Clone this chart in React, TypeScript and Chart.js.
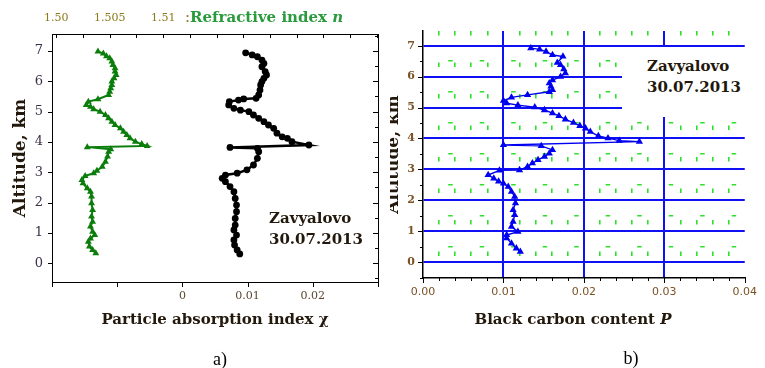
import React, { useEffect, useRef } from 'react';
import { Chart, registerables } from 'chart.js';

Chart.register(...registerables);

// ---- Panel a: refractive index n (green, top axis) vs altitude, km
const nAltitude = [
  6.98, 6.92, 6.83, 6.76, 6.65, 6.54, 6.43, 6.32, 6.21, 6.1, 5.99, 5.88, 5.77, 5.66, 5.55,
  5.41, 5.33, 5.22, 5.16, 5.08, 5.0, 4.89, 4.78, 4.67, 4.56, 4.45, 4.34, 4.23, 4.12, 4.01,
  3.93, 3.87, 3.83, 3.76, 3.68, 3.52, 3.35, 3.18, 3.05, 2.97, 2.88, 2.75, 2.64, 2.47, 2.36,
  2.2, 1.98, 1.76, 1.54, 1.37, 1.21, 1.04, 0.93, 0.82, 0.71, 0.55, 0.44, 0.33,
];
const nValues = [
  1.5039, 1.5044, 1.5047, 1.505, 1.5052, 1.5053, 1.5055, 1.5055, 1.5056, 1.5054, 1.5052, 1.5052, 1.5051, 1.505, 1.5049,
  1.5039, 1.503, 1.5028, 1.5032, 1.5035, 1.5041, 1.5046, 1.5049, 1.5052, 1.5055, 1.506, 1.5063, 1.5066, 1.5069, 1.5074,
  1.508, 1.5085, 1.5029, 1.5051, 1.5049, 1.5048, 1.5046, 1.5043, 1.5038, 1.5035, 1.5027, 1.5024, 1.5025, 1.5029, 1.5032,
  1.5033, 1.5033, 1.5034, 1.5033, 1.5034, 1.5032, 1.5034, 1.5036, 1.5032, 1.503, 1.5031, 1.5034, 1.5037,
];

// ---- Panel a: particle absorption index χ (black, bottom axis)
const chiAltitude = [
  6.94, 6.87, 6.81, 6.7, 6.59, 6.48, 6.32, 6.21, 6.1, 5.99, 5.88, 5.71, 5.55, 5.44, 5.42,
  5.38, 5.33, 5.22, 5.11, 5.05, 5.0, 4.89, 4.78, 4.67, 4.56, 4.45, 4.29, 4.17, 4.12, 4.01,
  3.9, 3.82, 3.79, 3.68, 3.46, 3.24, 3.08, 2.97, 2.91, 2.8, 2.69, 2.53, 2.36, 2.14, 1.92,
  1.7, 1.48, 1.26, 1.1, 0.93, 0.77, 0.6, 0.44, 0.31,
];
const chiValues = [
  0.0097, 0.0107, 0.0115, 0.0122, 0.0125, 0.0122, 0.0127, 0.0129, 0.0125, 0.0122, 0.012, 0.0119, 0.0117, 0.0113, 0.0094,
  0.0086, 0.0072, 0.0071, 0.0079, 0.0089, 0.0102, 0.0109, 0.0117, 0.0125, 0.0132, 0.014, 0.0145, 0.0153, 0.0161, 0.0168,
  0.0194, 0.0073, 0.0115, 0.0117, 0.0115, 0.0109, 0.0099, 0.0084, 0.0066, 0.0061, 0.0066, 0.0073, 0.0079, 0.0081, 0.0083,
  0.0083, 0.0081, 0.0081, 0.0079, 0.0083, 0.0079, 0.008, 0.0084, 0.0088,
];

// ---- Panel b: black carbon content P (blue)
const pAltitude = [
  6.92, 6.88, 6.81, 6.7, 6.65, 6.45, 6.38, 6.24, 6.11, 6.0, 5.89, 5.79, 5.68, 5.57, 5.51,
  5.41, 5.33, 5.22, 5.14, 5.08, 5.01, 4.92, 4.82, 4.73, 4.62, 4.51, 4.41, 4.33, 4.22, 4.08,
  4.01, 3.93, 3.9, 3.79, 3.76, 3.63, 3.52, 3.41, 3.31, 3.2, 3.09, 2.98, 2.97, 2.82, 2.71,
  2.61, 2.55, 2.44, 2.28, 2.12, 1.91, 1.69, 1.53, 1.31, 1.15, 0.99, 0.88, 0.78, 0.61, 0.45, 0.34,
];
const pValues = [
  0.0134, 0.0145, 0.0153, 0.0161, 0.0174, 0.0167, 0.0171, 0.0175, 0.0177, 0.0171, 0.0161, 0.0157, 0.0159, 0.0161, 0.0157,
  0.013, 0.011, 0.01, 0.0104, 0.0118, 0.0139, 0.0151, 0.0161, 0.0169, 0.0177, 0.0187, 0.0195, 0.0202, 0.0208, 0.0218,
  0.023, 0.0244, 0.0269, 0.01, 0.0147, 0.0161, 0.0157, 0.0151, 0.0143, 0.0136, 0.013, 0.012, 0.0095, 0.0081, 0.0088,
  0.0094, 0.01, 0.0106, 0.011, 0.0114, 0.0115, 0.0112, 0.0114, 0.0112, 0.011, 0.0118, 0.0104, 0.0104, 0.011, 0.0116, 0.0121,
];

// ---- Tick labels
const altTickValues = [0, 1, 2, 3, 4, 5, 6, 7];
const altTickText = ['0', '1', '2', '3', '4', '5', '6', '7'];
const chiTickValues = [0, 0.01, 0.02];
const chiTickText = ['0', '0.01', '0.02'];
const nTickValues = [1.5, 1.505, 1.51];
const nTickText = ['1.50', '1.505', '1.51'];
const pTickValues = [0, 0.01, 0.02, 0.03, 0.04];
const pTickText = ['0.00', '0.01', '0.02', '0.03', '0.04'];

const W = 765;
const H = 368;
const SERIF = "'DejaVu Serif', serif";
const SANS = "'DejaVu Sans', sans-serif";
const GREEN = '#0b7d0b';
const BLUE = '#0000f0';
const GRID_BLUE = '#1010f5';
const GRID_GREEN = '#2ee02a';
const TITLE_INK = '#22180c';
const LABEL_INK = '#5a4630';

// plot box of panel a, in page pixels
const A_LEFT = 52;
const A_TOP = 34;
const A_RIGHT = 378;
const A_BOTTOM = 282;

const onStep = (v: number, step: number) => Math.abs(v / step - Math.round(v / step)) < 1e-6;

const labelFrom = (values: number[], text: string[]) => (v: number | string) => {
  const i = values.findIndex((t) => Math.abs(t - Number(v)) < 1e-9);
  return i >= 0 ? text[i] : '';
};

const points = (xs: number[], ys: number[]) => ys.map((y, i) => ({ x: xs[i], y }));

type Mark = {
  scaleId: string;
  edge: 'left' | 'right' | 'top' | 'bottom';
  inward: boolean;
  major: number;
  minor: number;
  majorStep: number;
};

// Tick marks (pointing in or out) along the plot-area edges, placed from each scale's ticks.
function tickMarks(id: string, marks: Mark[], width: number) {
  return {
    id,
    afterDraw(chart: any) {
      const ctx: CanvasRenderingContext2D = chart.ctx;
      const a = chart.chartArea;
      const L = Math.round(a.left);
      const R = Math.round(a.right);
      const T = Math.round(a.top);
      const B = Math.round(a.bottom);
      ctx.save();
      ctx.fillStyle = '#000000';
      for (const m of marks) {
        const scale = chart.scales[m.scaleId];
        for (const t of scale.ticks) {
          const len = onStep(t.value, m.majorStep) ? m.major : m.minor;
          if (!len) continue;
          const p = Math.round(scale.getPixelForValue(t.value));
          if (m.edge === 'left') {
            ctx.fillRect(m.inward ? L : L - len, p, len, width);
          } else if (m.edge === 'right') {
            ctx.fillRect(m.inward ? R - len : R, p, len, width);
          } else if (m.edge === 'top') {
            ctx.fillRect(p, m.inward ? T : T - len, width, len);
          } else {
            ctx.fillRect(p, m.inward ? B - len : B, width, len);
          }
        }
      }
      ctx.restore();
    },
  };
}

function PanelA() {
  const ref = useRef<HTMLCanvasElement>(null);
  useEffect(() => {
    const chart = new Chart(ref.current as HTMLCanvasElement, {
      type: 'line',
      data: {
        datasets: [
          {
            label: 'n',
            data: points(nValues, nAltitude),
            xAxisID: 'xTop',
            yAxisID: 'y',
            borderColor: GREEN,
            backgroundColor: GREEN,
            borderWidth: 2,
            pointStyle: 'triangle',
            pointRadius: 4,
            pointBorderWidth: 0,
            tension: 0,
          },
          {
            label: 'chi',
            data: points(chiValues, chiAltitude),
            xAxisID: 'x',
            yAxisID: 'y',
            borderColor: '#000',
            backgroundColor: '#000',
            borderWidth: 2.5,
            pointStyle: 'circle',
            pointRadius: 3.4,
            pointBorderWidth: 0,
            tension: 0,
          },
        ],
      },
      options: {
        animation: false,
        responsive: false,
        maintainAspectRatio: false,
        layout: { padding: { left: 0, right: 390 - A_RIGHT, top: 0, bottom: 0 } },
        plugins: { legend: { display: false }, tooltip: { enabled: false } },
        scales: {
          x: {
            type: 'linear',
            position: 'bottom',
            min: -0.02,
            max: 0.03,
            grid: { display: false, drawTicks: false },
            border: { display: false },
            ticks: {
              stepSize: 0.01,
              includeBounds: false,
              autoSkip: false,
              maxRotation: 0,
              padding: 8,
              color: LABEL_INK,
              font: { family: SERIF, size: 11 },
              callback: labelFrom(chiTickValues, chiTickText),
            },
            title: {
              display: true,
              text: 'Particle absorption index χ',
              color: TITLE_INK,
              font: { family: SERIF, size: 15, weight: 'bold' },
              padding: { top: 0, bottom: 39 },
            },
            afterFit: (s: any) => {
              s.height = H - A_BOTTOM;
            },
          },
          xTop: {
            type: 'linear',
            position: 'top',
            min: 1.4996,
            max: 1.5301,
            grid: { display: false, drawTicks: false },
            border: { display: false },
            ticks: {
              stepSize: 0.0025,
              includeBounds: false,
              autoSkip: false,
              maxRotation: 0,
              padding: 9,
              color: '#8a7a1c',
              font: { family: SERIF, size: 11 },
              callback: labelFrom(nTickValues, nTickText),
            },
            afterFit: (s: any) => {
              s.height = A_TOP;
            },
          },
          y: {
            type: 'linear',
            position: 'left',
            min: -0.617,
            max: 7.56,
            grid: { display: false, drawTicks: false },
            border: { display: false },
            ticks: {
              stepSize: 0.5,
              includeBounds: false,
              autoSkip: false,
              padding: 9,
              color: '#3c3048',
              font: { family: SERIF, size: 13 },
              callback: labelFrom(altTickValues, altTickText),
            },
            title: {
              display: true,
              text: 'Altitude, km',
              color: TITLE_INK,
              font: { family: SERIF, size: 17, weight: 'bold' },
              padding: { top: 10, bottom: 0 },
            },
            afterFit: (s: any) => {
              s.width = A_LEFT;
            },
          },
        },
      } as any,
      plugins: [
        tickMarks(
          'panelATicks',
          [
            { scaleId: 'y', edge: 'left', inward: false, major: 4, minor: 0, majorStep: 1 },
            { scaleId: 'y', edge: 'right', inward: true, major: 5, minor: 3, majorStep: 1 },
            { scaleId: 'xTop', edge: 'top', inward: true, major: 4, minor: 4, majorStep: 0.0025 },
            { scaleId: 'x', edge: 'bottom', inward: false, major: 5, minor: 5, majorStep: 0.01 },
          ],
          1,
        ),
      ],
    });
    return () => chart.destroy();
  }, []);
  return (
    <canvas
      ref={ref}
      width={390}
      height={H}
      style={{ position: 'absolute', left: 0, top: 0, width: 390, height: H }}
    />
  );
}

function PanelB() {
  const ref = useRef<HTMLCanvasElement>(null);
  useEffect(() => {
    const xMajor = (v: number) => onStep(v, 0.01);
    const chart = new Chart(ref.current as HTMLCanvasElement, {
      type: 'line',
      data: {
        datasets: [
          {
            label: 'P',
            data: points(pValues, pAltitude),
            xAxisID: 'x',
            yAxisID: 'y',
            borderColor: BLUE,
            backgroundColor: BLUE,
            borderWidth: 1.4,
            pointStyle: 'triangle',
            pointRadius: 4.2,
            pointBorderWidth: 0,
            tension: 0,
          },
        ],
      },
      options: {
        animation: false,
        responsive: false,
        maintainAspectRatio: false,
        layout: { padding: { left: 0, right: 14, top: 31, bottom: 0 } },
        plugins: { legend: { display: false }, tooltip: { enabled: false } },
        scales: {
          x: {
            type: 'linear',
            position: 'bottom',
            min: 0,
            max: 0.04,
            grid: {
              drawTicks: false,
              color: (c: any) => {
                const v = c.tick ? c.tick.value : 0;
                if (v <= 1e-9 || v >= 0.04 - 1e-9) return 'rgba(0,0,0,0)';
                return xMajor(v) ? GRID_BLUE : GRID_GREEN;
              },
              lineWidth: (c: any) => (c.tick && xMajor(c.tick.value) ? 2 : 1.6),
            },
            border: {
              display: true,
              color: '#000',
              width: 1.5,
              dash: (c: any) => (c.tick && !xMajor(c.tick.value) ? [4.5, 27] : []),
              dashOffset: 0,
            },
            ticks: {
              stepSize: 0.002,
              includeBounds: false,
              autoSkip: false,
              maxRotation: 0,
              padding: 8,
              color: '#7a5224',
              font: { family: SANS, size: 11 },
              callback: labelFrom(pTickValues, pTickText),
            },
            afterFit: (s: any) => {
              s.height = H - 278;
            },
          },
          y: {
            type: 'linear',
            position: 'left',
            min: -0.51,
            max: 7.475,
            grid: {
              drawTicks: false,
              color: (c: any) => {
                const v = c.tick ? c.tick.value : 0;
                if (v < 0) return 'rgba(0,0,0,0)';
                return onStep(v, 1) ? GRID_BLUE : GRID_GREEN;
              },
              lineWidth: (c: any) => (c.tick && onStep(c.tick.value, 1) ? 2 : 1.6),
            },
            border: {
              display: true,
              color: '#000',
              width: 1.5,
              dash: (c: any) => (c.tick && !onStep(c.tick.value, 1) ? [4.5, 27] : []),
              dashOffset: 6.8,
            },
            ticks: {
              stepSize: 0.5,
              includeBounds: false,
              autoSkip: false,
              padding: 8,
              color: '#7a5224',
              font: { family: SERIF, size: 11, weight: 'bold' },
              callback: labelFrom(altTickValues, altTickText),
            },
            title: {
              display: true,
              text: 'Altitude, km',
              color: TITLE_INK,
              font: { family: SERIF, size: 17, weight: 'bold' },
              padding: { top: -7, bottom: 0 },
            },
            afterFit: (s: any) => {
              s.width = 33;
            },
          },
        },
      } as any,
      plugins: [
        tickMarks(
          'panelBTicks',
          [
            { scaleId: 'y', edge: 'left', inward: false, major: 5, minor: 3, majorStep: 1 },
            { scaleId: 'x', edge: 'bottom', inward: false, major: 5, minor: 3, majorStep: 0.01 },
          ],
          1,
        ),
      ],
    });
    return () => chart.destroy();
  }, []);
  return (
    <canvas
      ref={ref}
      width={375}
      height={H}
      style={{ position: 'absolute', left: 390, top: 0, width: 375, height: H }}
    />
  );
}

const noteStyle: React.CSSProperties = {
  position: 'absolute',
  fontFamily: SERIF,
  fontWeight: 'bold',
  fontSize: 15,
  lineHeight: '21px',
  color: TITLE_INK,
  whiteSpace: 'nowrap',
};

export default function App() {
  return (
    <div
      style={{
        position: 'fixed',
        left: 0,
        top: 0,
        width: W,
        height: H,
        background: '#fff',
        overflow: 'hidden',
      }}
    >
      <PanelA />
      <PanelB />
      {/* box round the plot area of panel a */}
      <div
        style={{
          position: 'absolute',
          left: A_LEFT,
          top: A_TOP,
          width: A_RIGHT - A_LEFT + 1,
          height: A_BOTTOM - A_TOP + 1,
          border: '1px solid #000',
          boxSizing: 'border-box',
          pointerEvents: 'none',
        }}
      />
      {/* top axis title of panel a */}
      <div
        style={{
          position: 'absolute',
          left: 185,
          top: 7,
          fontFamily: SERIF,
          fontSize: 15,
          lineHeight: '20px',
          whiteSpace: 'nowrap',
        }}
      >
        <span style={{ color: '#8a7a1c' }}>:</span>
        <span style={{ color: '#2a9a3c', fontWeight: 'bold' }}>
          Refractive index <i>n</i>
        </span>
      </div>
      <div style={{ ...noteStyle, left: 269, top: 208 }}>
        Zavyalovo
        <br />
        30.07.2013
      </div>
      {/* label box of panel b, drawn over the grid */}
      <div
        style={{
          ...noteStyle,
          left: 622,
          top: 47,
          width: 143,
          height: 70,
          background: '#fff',
          paddingLeft: 25,
          paddingTop: 9,
          boxSizing: 'border-box',
        }}
      >
        Zavyalovo
        <br />
        30.07.2013
      </div>
      <div
        style={{
          position: 'absolute',
          left: 473,
          top: 309,
          width: 200,
          textAlign: 'center',
          fontFamily: SERIF,
          fontWeight: 'bold',
          fontSize: 15,
          lineHeight: '20px',
          color: TITLE_INK,
          whiteSpace: 'nowrap',
        }}
      >
        Black carbon content <i>P</i>
      </div>
      <div
        style={{
          position: 'absolute',
          left: 200,
          top: 349,
          width: 40,
          textAlign: 'center',
          fontFamily: "'Liberation Serif', serif",
          fontSize: 18,
          lineHeight: '20px',
          color: '#000',
        }}
      >
        a)
      </div>
      <div
        style={{
          position: 'absolute',
          left: 611,
          top: 348,
          width: 40,
          textAlign: 'center',
          fontFamily: "'Liberation Serif', serif",
          fontSize: 18,
          lineHeight: '20px',
          color: '#000',
        }}
      >
        b)
      </div>
    </div>
  );
}
